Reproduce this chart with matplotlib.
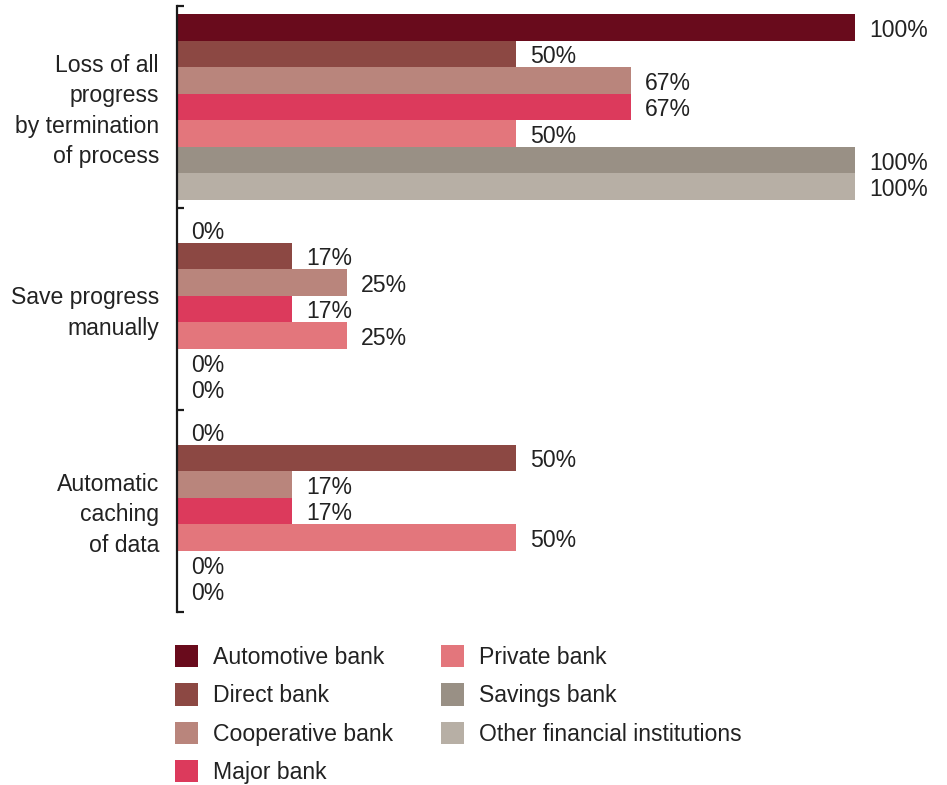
import numpy as np
import matplotlib.pyplot as plt

plt.rcParams['font.family'] = ['Liberation Sans', 'DejaVu Sans']

categories = ["Loss of all\nprogress\nby termination\nof process",
              "Save progress\nmanually",
              "Automatic\ncaching\nof data"]
banks = ["Automotive bank", "Direct bank", "Cooperative bank", "Major bank",
         "Private bank", "Savings bank", "Other financial institutions"]
colors = ["#690b1c", "#8c4843", "#b9857c", "#dc3a5c", "#e3767c", "#999085", "#b7afa5"]

# share per bank type (%), one list per category
loss_all = [100, 50, 67, 67, 50, 100, 100]
save_manual = [0, 17, 25, 17, 25, 0, 0]
auto_cache = [0, 50, 17, 17, 50, 0, 0]
values = [loss_all, save_manual, auto_cache]

text_color = "#222222"
fs = 16.6

fig = plt.figure(figsize=(9.47, 7.85), dpi=100)
ax = fig.add_axes([177 / 947, 1 - 612 / 785, (855 - 177) / 947, 606 / 785])

n = len(banks)
pad = 0.04
bh = (1 - 2 * pad) / n
for i, vals in enumerate(values):
    for j, v in enumerate(vals):
        y = i + pad + bh * (j + 0.5)
        ax.barh(y, v, height=bh, color=colors[j], label=banks[j] if i == 0 else None)
        ax.annotate(f"{v}%", xy=(v, y), xytext=(14, -3), textcoords="offset pixels",
                    ha="left", va="center", fontsize=fs, color=text_color,
                    annotation_clip=False)

ax.set_xlim(0, 100)
ax.set_ylim(3, 0)
ax.set_xticks([])
ax.set_yticks([0, 1, 2, 3])
ax.set_yticklabels([])
ax.set_yticks([0.49, 1.49, 2.49], minor=True)
ax.set_yticklabels(categories, minor=True, fontsize=fs, color=text_color,
                   linespacing=1.39, ha="right")
ax.tick_params(axis="y", which="major", direction="in", length=5, width=1.6, color="#1a1a1a")
ax.tick_params(axis="y", which="minor", length=0, pad=13)
for s in ["top", "right", "bottom"]:
    ax.spines[s].set_visible(False)
ax.spines["left"].set_linewidth(1.6)
ax.spines["left"].set_color("#1a1a1a")

fig.legend(loc="upper left", bbox_to_anchor=(175 / 947, 1 - 645 / 785), ncol=2,
           frameon=False, fontsize=fs, handlelength=1.0, handleheight=1.12,
           handletextpad=0.66, labelspacing=0.62, columnspacing=2.05, borderpad=0,
           borderaxespad=0, labelcolor=text_color)

fig.savefig("out.png", dpi=100)
